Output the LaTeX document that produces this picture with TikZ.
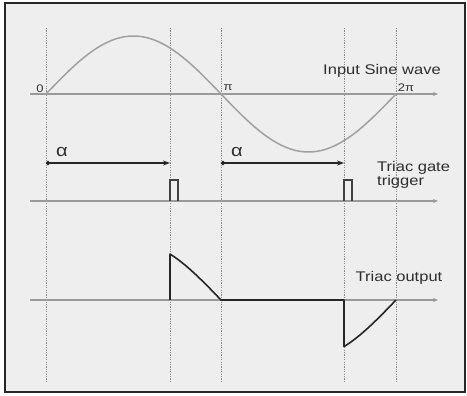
\documentclass[tikz,border=0pt]{standalone}
\usepackage{fontspec}
\setmainfont{Liberation Sans}
\newfontfamily\labfont[FakeStretch=1.18]{Liberation Sans}
\usetikzlibrary{arrows.meta}
\definecolor{bg}{HTML}{EEEEEE}
\definecolor{axisgray}{HTML}{9A9A9A}
\definecolor{wavegray}{HTML}{A0A0A0}
\definecolor{dotgray}{HTML}{8A8A8A}
\tikzset{
  axisline/.style={draw=axisgray, line width=1.1pt, -{Stealth[length=5pt,width=4pt]}},
  guide/.style={draw=dotgray, line width=0.9pt, dash pattern=on 1.2pt off 1.2pt},
  wave/.style={draw=wavegray, line width=1.5pt},
  outwave/.style={draw=black!85, line width=1.6pt, line join=round},
  pulse/.style={draw=black!75, line width=1.1pt},
  alphaarrow/.style={draw=black!85, line width=1.4pt, {Circle[length=4pt]}-{Stealth[length=7pt,width=5pt]}},
  lab/.style={font=\labfont\fontsize{14}{14}\selectfont, text=black!82, inner sep=0pt},
  alab/.style={font=\labfont\fontsize{17}{17}\selectfont, text=black!82, inner sep=0pt},
  small/.style={font=\labfont\fontsize{11}{11}\selectfont, text=black!80, inner sep=0pt},
}
\begin{document}
\begin{tikzpicture}[x=1pt,y=-1pt]
\useasboundingbox (0,0) rectangle (467,396);
\fill[white] (0,0) rectangle (467,396);
\fill[bg] (5,3) rectangle (465,392);
\draw[black!85, line width=2.5pt] (5,3) rectangle (465,392);

% dotted guide lines
\foreach \gx/\nm in {46/ga,170/gb,221/gc,344/gd,396/ge}{
  \coordinate (\nm top) at (\gx,28);
  \coordinate (\nm bot) at (\gx,383);
  \draw[guide] (\nm top) -- (\nm bot);
}

% axes
\coordinate (a1s) at (30,94);  \coordinate (a1e) at (438,94);
\coordinate (a2s) at (30,201); \coordinate (a2e) at (438,201);
\coordinate (a3s) at (30,300); \coordinate (a3e) at (438,300);
\draw[axisline] (a1s) -- (a1e);
\draw[axisline] (a2s) -- (a2e);
\draw[axisline] (a3s) -- (a3e);

% input sine wave
\draw[wave] plot[domain=46:396, samples=120, smooth] (\x, {94-58*sin((\x-46)/350*360)});

% labels on sine axis
\node[small] (l0) at (40,89) {0};
\node[small] (lpi) at (228,88) {π};
\node[small] (l2pi) at (406,88) {2π};
\node[lab] (lin) at (382,71) {Input Sine wave};

% alpha arrows
\coordinate (al1s) at (46,163);  \coordinate (al1e) at (170,163);
\coordinate (al2s) at (221,163); \coordinate (al2e) at (344,163);
\draw[alphaarrow] (al1s) -- (al1e);
\draw[alphaarrow] (al2s) -- (al2e);
\node[alab] (alpha1) at (62,152) {α};
\node[alab] (alpha2) at (237,152) {α};

% gate pulses
\draw[pulse] (170,201) -- (170,180) -- (178,180) -- (178,201);
\draw[pulse] (344,201) -- (344,180) -- (352,180) -- (352,201);
\node[lab, align=left, anchor=west] (lgate) at (377,175) {Triac gate\\[0pt]trigger};

% triac output
\draw[outwave] (170,300) -- (170,{300-58*sin(124/350*360)})
  -- plot[domain=170:221, samples=30, smooth] (\x, {300-58*sin((\x-46)/350*360)})
  -- (344,300) -- (344,{300-58*sin(298/350*360)})
  -- plot[domain=344:396, samples=30, smooth] (\x, {300-58*sin((\x-46)/350*360)});
\node[lab] (lout) at (399,278) {Triac output};
\end{tikzpicture}
\end{document}
